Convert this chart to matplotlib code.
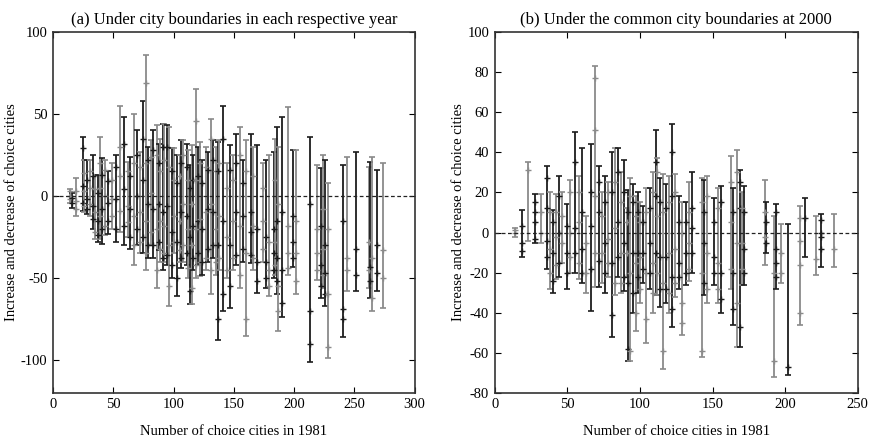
import matplotlib
matplotlib.use("Agg")
import matplotlib.pyplot as plt

plt.rcParams['font.family'] = ['Liberation Serif', 'DejaVu Serif']
plt.rcParams['axes.unicode_minus'] = False

# (a) city boundaries of each year
a_x = [14, 16, 19, 25, 26, 28, 31, 33, 35, 37, 39, 41, 43, 46, 49, 52, 56, 59, 62, 64,
       67, 70, 72, 75, 77, 79, 81, 83, 86, 88, 89, 91, 92, 95, 96, 99, 100, 103, 105, 106,
       108, 111, 112, 114, 115, 116, 119, 120, 122, 124, 127, 129, 131, 133, 135, 137, 138, 141, 144, 147,
       149, 152, 155, 158, 160, 164, 166, 169, 174, 177, 179, 183, 184, 186, 187, 190, 195, 199, 202, 213,
       219, 222, 224, 226, 228, 241, 244, 251, 262, 263, 265, 269, 274]
a_lo = [-4, -7, -12, -9, -10, -11, -12, -20, -26, -28, -26, -29, -24, -23, -20, -28, -22, -30, -25, -32,
        -42, -30, -35, -35, -45, -38, -30, -38, -56, -33, -40, -45, -40, -42, -67, -50, -35, -61, -40, -44,
        -40, -42, -50, -66, -66, -45, -50, -42, -49, -48, -45, -40, -60, -38, -48, -88, -45, -70, -50, -68,
        -45, -42, -56, -40, -85, -41, -45, -59, -40, -56, -61, -50, -48, -60, -82, -74, -48, -43, -60, -101,
        -51, -62, -56, -67, -99, -86, -58, -58, -56, -62, -70, -58, -68]
a_hi = [4, 2, 11, 36, 22, 22, 22, 25, 13, 13, 36, 23, 22, 15, 20, 25, 55, 48, 21, 24,
        50, 40, 27, 58, 86, 30, 34, 40, 43, 32, 35, 44, 44, 43, 42, 29, 29, 25, 25, 34,
        34, 32, 28, 19, 31, 25, 65, 30, 33, 22, 30, 27, 47, 34, 30, 33, 34, 55, 20, 31,
        25, 38, 42, 22, 34, 38, 30, 31, 20, 22, 25, 27, 35, 42, 30, 48, 54, 28, 28, 36,
        19, 17, 25, 22, 8, 19, 24, 27, 18, 21, 24, 16, 20]
a_marks = [[0, -2, 3], [-1, -4], [3, -3, -8], [29, 6, -4], [14, 3, -6], [10, -2, -8], [15, 5, -5],
           [12, -6, -14], [4, -10, -22], [2, -15, -24], [20, 5, -12], [13, -8, -20], [16, 0, -18],
           [9, -4, -15], [10, -2, -12], [18, -2, -20], [30, 12, -9], [32, 4, -18], [15, -6, -16],
           [12, -8, -25], [20, -12, -30], [25, 0, -20], [18, -10, -28], [35, 10, -25], [69, 20, -15, -35],
           [22, -5, -30], [24, 2, -22], [28, -8, -30], [25, -20, -45], [20, -5, -28], [15, -15, -32],
           [30, -10, -38], [22, -18, -35], [30, -6, -36], [18, -30, -55], [15, -22, -42], [10, -12, -28],
           [8, -28, -50], [12, -15, -33], [20, -10, -38], [25, -5, -30], [18, -12, -35], [10, -20, -44],
           [5, -25, -58], [-5, -30, -56], [10, -18, -38], [46, 10, -20, -42], [12, -15, -35], [20, -14, -40],
           [8, -20, -40], [18, -10, -38], [16, -8, -32], [35, -5, -45], [22, -10, -30], [15, -20, -40],
           [15, -30, -75], [20, -12, -38], [35, -15, -60], [5, -25, -45], [16, -30, -55], [10, -15, -38],
           [20, -10, -36], [25, -18, -48], [8, -12, -32], [15, -35, -75], [-10, -22, -36], [12, -18, -38],
           [-20, -40, -52], [5, -15, -32], [-25, -40, -50], [-28, -45, -55], [-20, -35, -45], [10, -28, -42],
           [-15, -38, -52], [-5, -55, -70], [-10, -45, -65], [-18, -35, -44], [-12, -28, -38], [-15, -35, -52],
           [-5, -70, -90], [-20, -35, -45], [-18, -42, -55], [-8, -32, -48], [-30, -47, -60], [-20, -60, -92],
           [-15, -69, -75], [-38, -45], [-32, -48], [-28, -45], [-43, -52], [-38, -62], [-30, -47], [-33, -50]]

# (b) city boundaries fixed at 2000
b_x = [14, 19, 23, 28, 32, 36, 38, 40, 42, 44, 46, 50, 52, 55, 58, 60, 63, 66, 69, 72,
       74, 76, 78, 81, 83, 85, 87, 89, 91, 92, 93, 95, 97, 99, 100, 102, 104, 107, 109, 111,
       112, 114, 116, 118, 120, 122, 124, 127, 129, 132, 134, 136, 143, 144, 146, 151, 154, 156, 163, 164,
       167, 169, 170, 172, 186, 187, 192, 194, 197, 202, 210, 214, 221, 225, 234]
b_lo = [-2, -12, -4, -5, -5, -18, -28, -30, -23, -22, -15, -28, -20, -20, -23, -25, -30, -39, -27, -27,
        -25, -30, -22, -52, -31, -22, -30, -29, -22, -64, -64, -40, -49, -30, -35, -25, -55, -28, -40, -31,
        -31, -37, -68, -35, -40, -47, -32, -28, -51, -26, -24, -20, -62, -31, -35, -26, -35, -40, -28, -46,
        -57, -57, -26, -26, -16, -10, -72, -28, -25, -71, -46, -12, -21, -17, -17]
b_hi = [2, 11, 35, 19, 19, 33, 20, 11, 19, 28, 20, 14, 26, 50, 28, 42, 8, 44, 83, 33,
        20, 28, 25, 40, 42, 42, 30, 36, 12, 21, 27, 24, 18, 20, 15, 13, 22, 22, 30, 51,
        37, 27, 29, 24, 28, 54, 29, 18, 15, 15, 25, 30, 27, 26, 28, 17, 22, 23, 38, 22,
        41, 31, 20, 23, 26, 15, 8, 14, 4, 4, 13, 17, 8, 9, 9]
b_marks = [[0, 1], [3, -5, -9], [31], [15, 10, 5, -3], [10, 0], [27, 12, -4, -12], [10, -8, -20],
           [5, -10, -24], [10, -2, -16], [18, 0, -15], [8, -5], [3, -10, -20], [20, 0, -12], [35, 2, -10],
           [20, 5, -15], [10, -8, -20], [-5, -20], [20, 3, -18], [77, 51, 18, -10], [25, 10, -14], [8, -10],
           [15, -5, -20], [20, -3, -15], [20, -15, -41], [25, 2, -25], [30, 5, -12], [15, -10, -25],
           [20, -5, -22], [5, -10], [10, -25, -58], [18, -20, -59], [15, -10, -30], [8, -15, -40],
           [10, -10, -22], [5, -12, -28], [5, -10, -18], [10, -20, -43], [12, -5, -20], [20, -15, -30],
           [35, 18, -10], [30, 8, -20], [15, -12, -28], [10, -25, -59], [12, -12, -28], [15, -10, -30],
           [40, 18, -22, -38], [20, -8, -25], [5, -15, -22], [0, -35, -45], [5, -10, -20], [10, -5, -18],
           [12, 2, -10], [15, -20, -59], [10, -5, -25], [18, -10, -28], [5, -12, -20], [12, -15, -28],
           [15, -20, -33], [25, 5, -18], [10, -20, -38], [30, -5, -35], [25, 12, -47], [12, -5, -18],
           [10, -8, -20], [10, -2], [5, -5], [-20, -64], [10, -8, -15, -22], [-10, -20], [-67],
           [7, -4, -16, -40], [7], [-13], [6, 0, -2, -8], [-8]]

fig = plt.figure(figsize=(8.73, 4.42), dpi=100)
ax1 = fig.add_axes([0.0607, 0.111, 0.4142, 0.8167])
ax2 = fig.add_axes([0.5667, 0.111, 0.4158, 0.8167])


def draw_panel(ax, xs, lo, hi, marks):
    for i, x in enumerate(xs):
        c = '#8a8a8a' if i % 2 == 0 else '#1c1c1c'
        ax.errorbar([x], [lo[i]], yerr=[[0], [hi[i] - lo[i]]], fmt='none', ecolor=c,
                    elinewidth=1.3, capsize=2.5, capthick=1.2, zorder=2)
        ax.plot([x] * len(marks[i]), marks[i], '+', color=c, ms=5, mew=1.0, zorder=3)
    ax.axhline(0, color='#222222', ls=(0, (3, 2)), lw=0.9, zorder=4)
    ax.tick_params(direction='in', top=True, right=True, length=4, labelsize=10.5, pad=4)
    for s in ax.spines.values():
        s.set_linewidth(1.2)
        s.set_color('#333333')
    ax.set_xlabel('Number of choice cities in 1981', fontsize=10.5, labelpad=10)
    ax.set_ylabel('Increase and decrease of choice cities', fontsize=10.5, labelpad=2)


draw_panel(ax1, a_x, a_lo, a_hi, a_marks)
ax1.set_xlim(0, 300)
ax1.set_ylim(-120, 100)
ax1.set_yticks([-100, -50, 0, 50, 100])
ax1.set_title('(a) Under city boundaries in each respective year', fontsize=12, pad=6)

draw_panel(ax2, b_x, b_lo, b_hi, b_marks)
ax2.set_xlim(0, 250)
ax2.set_ylim(-80, 100)
ax2.set_yticks(range(-80, 101, 20))
ax2.set_title('(b) Under the common city boundaries at 2000', fontsize=12, pad=6)

fig.savefig('out.png', dpi=100)
